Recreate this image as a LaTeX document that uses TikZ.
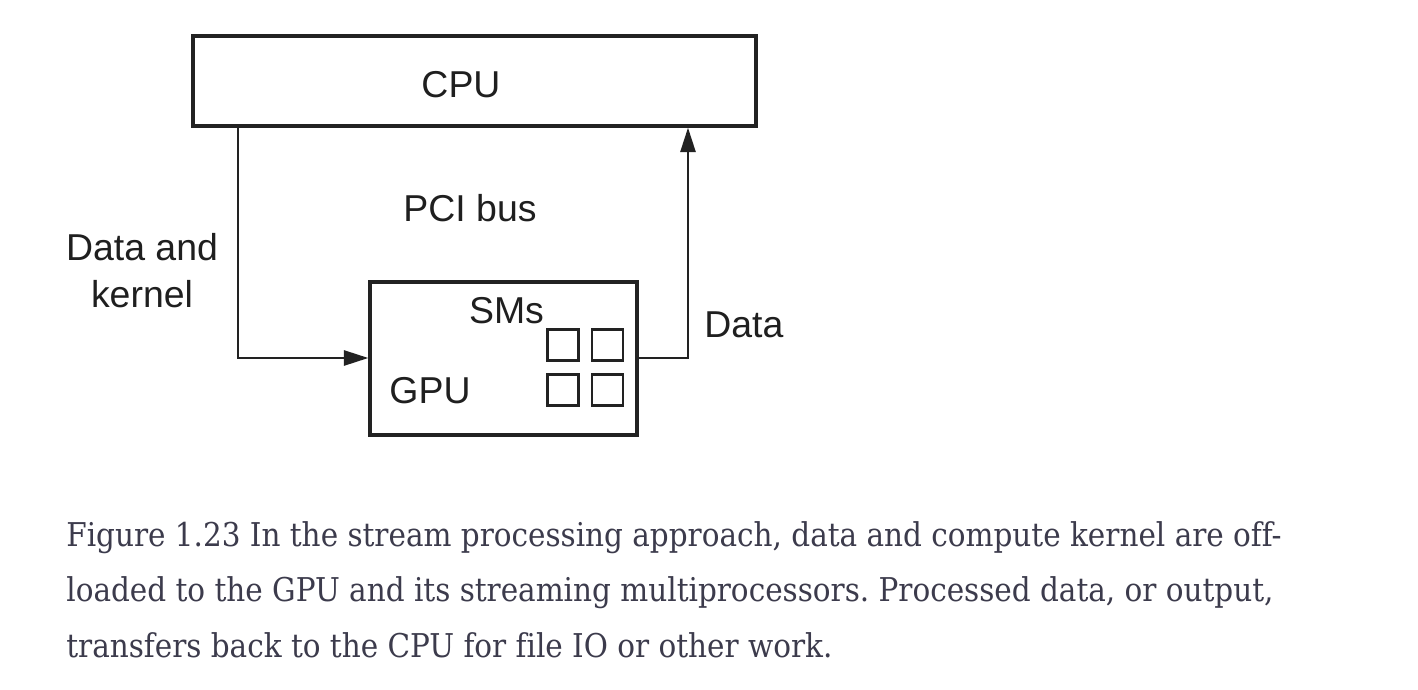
\documentclass[tikz,border=0pt]{standalone}
\usepackage{fontspec}
\setmainfont{Liberation Sans}
\newfontfamily\capfont[Ligatures=NoCommon]{DejaVu Serif Condensed}
\usetikzlibrary{arrows.meta}
\definecolor{captext}{HTML}{3C3B4C}
\definecolor{linecol}{HTML}{222222}
\tikzset{
  box/.style={draw=linecol, line width=1.75pt},
  smbox/.style={draw=linecol, line width=1.6pt},
  conn/.style={draw=linecol, line width=1.7pt, -{Triangle[length=14pt,width=8.5pt]}},
  lbl/.style={font=\fontsize{21.3}{26.7}\selectfont, text=black!88, inner sep=0pt, anchor=base},
  captionline/.style={font=\capfont\fontsize{18.65}{22}\selectfont\frenchspacing, text=captext, inner sep=0pt, anchor=base west},
}
\begin{document}
\begin{tikzpicture}[x=0.02cm, y=-0.02cm]
\useasboundingbox (0,0) rectangle (1418,690);
% boxes
\node[box, minimum width=563*0.02cm, minimum height=90*0.02cm, inner sep=0pt] (cpu) at (474.5,81) {};
\node[box, minimum width=267*0.02cm, minimum height=153*0.02cm, inner sep=0pt] (gpu) at (503.5,358.5) {};
% SM squares
\node[smbox, minimum size=31*0.02cm, inner sep=0pt] (sm1) at (563,345) {};
\node[smbox, minimum size=31*0.02cm, inner sep=0pt] (sm2) at (607.5,345) {};
\node[smbox, minimum size=31*0.02cm, inner sep=0pt] (sm3) at (563,390) {};
\node[smbox, minimum size=31*0.02cm, inner sep=0pt] (sm4) at (607.5,390) {};
% labels
\node[lbl] (cputxt) at (461,97) {CPU};
\node[lbl] (pci) at (470,221) {PCI bus};
\node[lbl] (smtxt) at (506.5,323) {SMs};
\node[lbl] (gputxt) at (430,403) {GPU};
\node[lbl, align=center] (dk) at (142,307) {Data and\\kernel};
\node[lbl, anchor=base west] (dtxt) at (704,337) {Data};
% connectors
\coordinate (a1) at (238,126);
\coordinate (a2) at (238,358);
\draw[conn] (cpu.south west -| a1) -- (a2) -- (a2 -| gpu.west);
\coordinate (b1) at (688,358);
\draw[conn] (gpu.east |- b1) -- (b1) -- (b1 |- cpu.south);
% caption
\node[captionline] (c1) at (66,546) {Figure 1.23 In the stream processing approach, data and compute kernel are off-};
\node[captionline] (c2) at (66,601.5) {loaded to the GPU and its streaming multiprocessors. Processed data, or output,};
\node[captionline] (c3) at (66,657) {transfers back to the CPU for file IO or other work.};
\end{tikzpicture}
\end{document}
